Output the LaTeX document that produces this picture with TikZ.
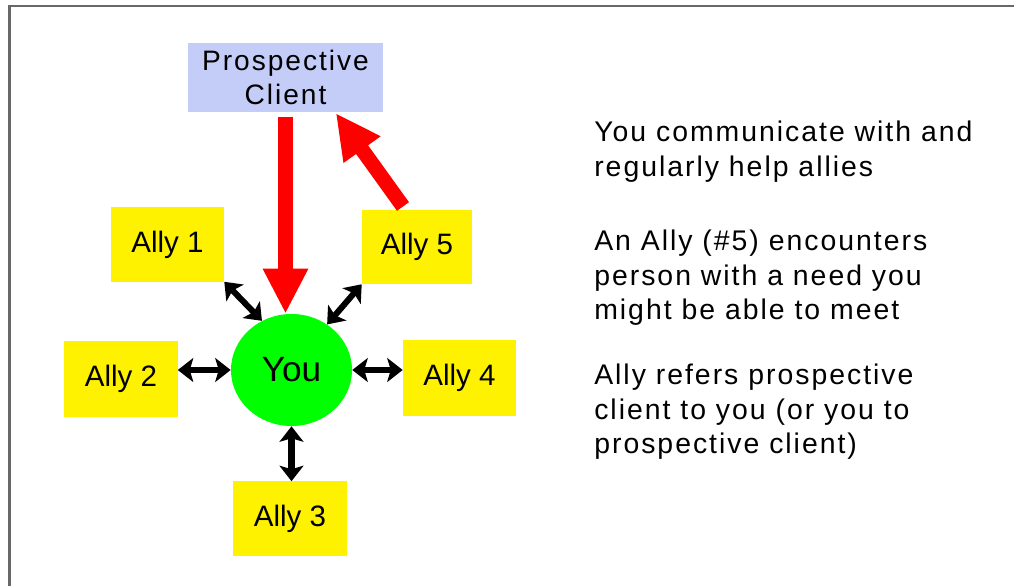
\documentclass[tikz,border=0pt]{standalone}
\usepackage{fontspec}
\setmainfont{Liberation Sans}
\newfontfamily\widefont{Liberation Sans}[LetterSpace=7]
\usetikzlibrary{arrows.meta,shapes.geometric}
\definecolor{pcblue}{RGB}{196,204,248}
\definecolor{framegray}{RGB}{104,104,104}

\begin{document}
\begin{tikzpicture}[x=0.025cm,y=-0.025cm,
    ally/.style={fill=yellow,inner sep=0pt,minimum width=2.825cm,minimum height=1.85cm,font=\fontsize{21}{24}\selectfont},
    link/.style={{Stealth[length=11pt,width=17pt,inset=2.5pt]}-{Stealth[length=11pt,width=17pt,inset=2.5pt]},line width=4.3pt},
    refer/.style={-{Triangle[length=32pt,width=30pt]},red,line width=10.5pt},
    note/.style={align=left,inner sep=0pt,anchor=north west,font=\widefont\fontsize{20.2}{24.5}\selectfont}]
    \useasboundingbox (0,0) rectangle (1014,586);
    \draw[framegray,line width=2.1pt] (9.5,586) -- (9.5,6) -- (1014,6);
    % people
    \node[fill=pcblue,inner sep=0pt,minimum width=4.85cm,minimum height=1.725cm,align=center,font=\widefont\fontsize{20}{24.2}\selectfont] (pc) at (285.5,77.5) {Prospective\\Client};
    \node[ellipse,fill=green,inner sep=0pt,minimum width=3.025cm,minimum height=2.8cm,font=\fontsize{25}{28}\selectfont] (you) at (291.5,370) {You};
    \node[ally] (a1) at (167.5,244.5) {Ally 1};
    \node[ally,minimum height=1.9cm] (a2) at (121,379) {Ally 2};
    \node[ally] (a3) at (290,518.5) {Ally 3};
    \node[ally,minimum height=1.9cm] (a4) at (459.5,378) {Ally 4};
    \node[ally,minimum width=2.75cm] (a5) at (417,247) {Ally 5};
    % connections
    \draw[link] (a1.south east) -- (you.121);
    \draw[link] (a5.south west) -- (you.52);
    \draw[link] (a2.east |- you) -- (you);
    \draw[link] (you) -- (a4.west |- you);
    \draw[link] (you) -- (you |- a3.north);
    \draw[refer,shorten <=3pt] (pc.south) -- (pc.south |- you.north);
    \draw[refer] ([xshift=-0.35cm,yshift=0.08cm]a5.north) -- ([xshift=-1.175cm,yshift=-0.02cm]pc.south east);
    % notes
    \node[note] (n1) at (594,121) {You communicate with and\\regularly help allies};
    \node[note] (n2) at (594,230) {An Ally (\#5) encounters\\person with a need you\\might be able to meet};
    \node[note] (n3) at (594,364) {Ally refers prospective\\client to you (or you to\\prospective client)};
\end{tikzpicture}
\end{document}
